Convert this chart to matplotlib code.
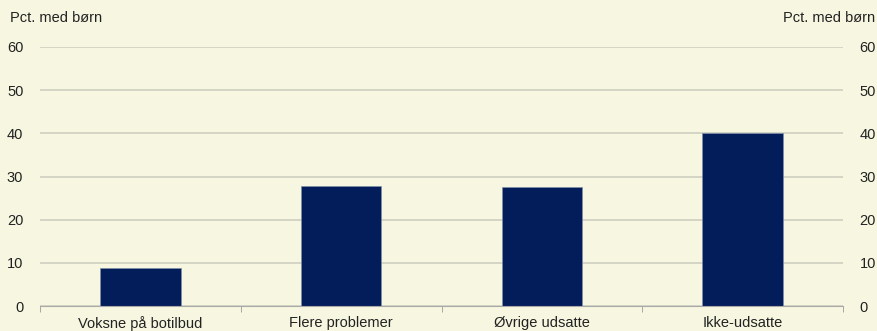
import matplotlib.pyplot as plt

# Andel med børn fordelt på grupper
categories = ['Voksne på botilbud', 'Flere problemer', 'Øvrige udsatte', 'Ikke-udsatte']
pct_children = [8.8, 27.8, 27.5, 40.0]
yticks = [0, 10, 20, 30, 40, 50, 60]

bg = '#F7F7E1'
bar_color = '#031C5A'
grid_color = '#CFCFC0'

plt.rcParams['font.family'] = ['Liberation Sans', 'DejaVu Sans']
plt.rcParams['font.size'] = 10.5

fig = plt.figure(figsize=(8.77, 3.31), dpi=100, facecolor=bg)
ax = fig.add_axes([40 / 877, 1 - 306 / 331, 803 / 877, 259 / 331], facecolor=bg)

x = range(len(categories))
ax.bar(x, pct_children, width=0.4, color=bar_color, edgecolor='#8090A8', linewidth=0.5, zorder=3)

ax.set_ylim(0, 60)
ax.set_xlim(-0.5, len(categories) - 0.5)
ax.set_yticks(yticks)
ax.yaxis.grid(True, color=grid_color, linewidth=1.2, zorder=0)
ax.tick_params(axis='y', length=0, pad=12, colors='#222222', labelleft=True, labelright=True)

ax.set_xticks(x)
ax.set_xticklabels(categories, color='#222222')
ax.set_xticks([i - 0.5 for i in range(len(categories) + 1)], minor=True)
ax.tick_params(axis='x', which='major', length=0, pad=7)
ax.tick_params(axis='x', which='minor', length=4, color='#999999', direction='out')

for side in ['left', 'right', 'top']:
    ax.spines[side].set_visible(False)
ax.spines['bottom'].set_color('#AAAAAA')
ax.spines['bottom'].set_zorder(4)

fig.text(10 / 877, 1 - 18 / 331, 'Pct. med børn', ha='left', va='center', color='#222222')
fig.text(875 / 877, 1 - 18 / 331, 'Pct. med børn', ha='right', va='center', color='#222222')

fig.savefig('out.png', dpi=100, facecolor=bg)
